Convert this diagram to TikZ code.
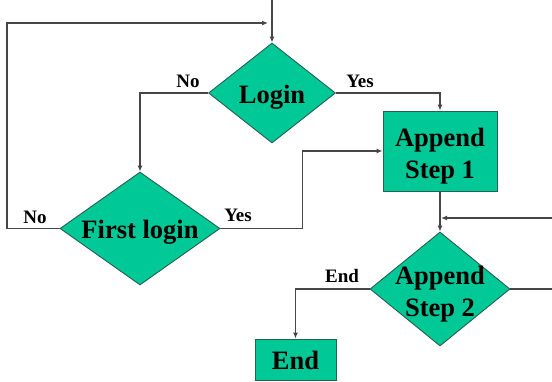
\documentclass[tikz,border=0pt]{standalone}
\usepackage{fontspec}
\setmainfont{Liberation Serif}
\usetikzlibrary{shapes.geometric,arrows.meta}

\definecolor{boxfill}{RGB}{0,200,150}
\definecolor{boxedge}{RGB}{40,95,80}
\definecolor{wire}{RGB}{70,70,70}

\tikzset{
  shapetext/.style={font=\fontsize{26.5}{32}\selectfont\bfseries, align=center, inner sep=0pt},
  decision/.style={diamond, draw=boxedge, fill=boxfill, line width=0.9pt, inner sep=0pt, aspect=1},
  process/.style={rectangle, draw=boxedge, fill=boxfill, line width=0.9pt, inner sep=0pt},
  branch/.style={font=\fontsize{19}{22}\selectfont\bfseries, inner sep=0pt},
  wireline/.style={draw=wire, line width=1.2pt},
  arr/.style={wireline, -{Latex[length=6pt,width=5pt]}}
}

\begin{document}
\begin{tikzpicture}[x=1pt,y=-1pt]
\useasboundingbox (0,0) rectangle (552,381);

% decisions and steps
\node[decision, minimum width=127pt, minimum height=100pt,
      label={[shapetext, yshift=-4pt]center:Login}] (login) at (272,93) {};
\node[decision, minimum width=160pt, minimum height=113pt,
      label={[shapetext, yshift=-3.5pt]center:First login}] (first) at (140,228.5) {};
\node[process, minimum width=114pt, minimum height=80pt,
      label={[shapetext, yshift=-5pt]center:Append\\Step 1}] (s1) at (440,151) {};
\node[decision, minimum width=140pt, minimum height=114pt,
      label={[shapetext, yshift=-5pt]center:Append\\Step 2}] (s2) at (440,289) {};
\node[process, minimum width=81pt, minimum height=41pt,
      label={[shapetext, yshift=-1pt]center:End}] (end) at (295.5,359.5) {};

% branch labels
\node[branch] (lnNo)  at (188,81)  {No};
\node[branch] (lnYes) at (360,81)  {Yes};
\node[branch] (flNo)  at (35,217)  {No};
\node[branch] (flYes) at (238,215) {Yes};
\node[branch] (s2End) at (342,276) {End};

% free ends of the connectors
\coordinate (entry)   at (272,0);
\coordinate (loopL)   at (7,23);
\coordinate (loopR)   at (268,23);
\coordinate (fbIn)    at (552,218);
\coordinate (fbOut)   at (552,289);

% connectors
\draw[arr] (entry) -- (login.north);
\draw[arr] (first.west) -| (loopL) -- (loopR);
\draw[arr] (login.west) -| (first.north);
\draw[arr] (login.east) -| (s1.north);
\draw[arr] (first.east) -- ++(82,0) |- (s1.west);
\draw[arr] (s1.south) -- (s2.north);
\draw[arr] (fbIn) -- ([xshift=1pt]fbIn -| s1.south);
\draw[wireline] (s2.east) -- (fbOut);
\draw[arr] (s2.west) -| (end.north);
\end{tikzpicture}
\end{document}
